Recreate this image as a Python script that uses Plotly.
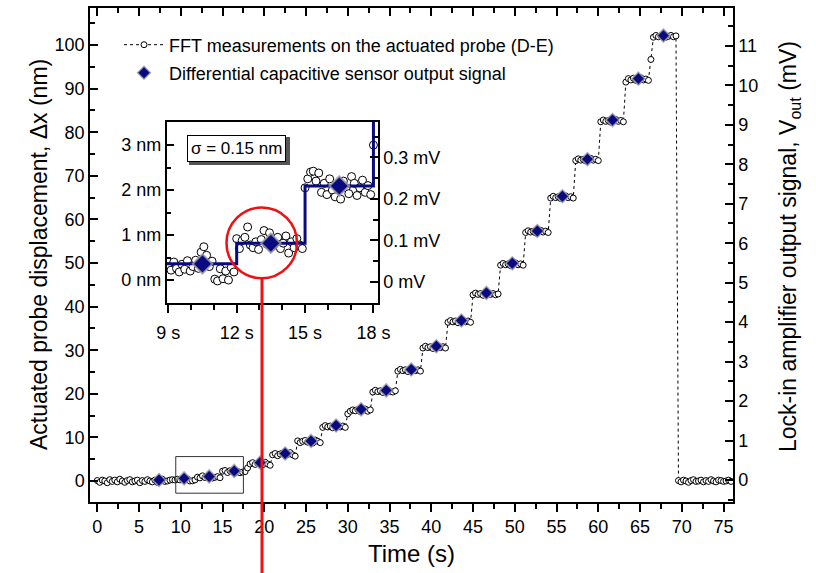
import numpy as np
import plotly.graph_objects as go

# ---------------- data ----------------
# FFT measurements (nm), sampled every 0.3 s from t = 0 s
fft_nm = [
    # 0 - 8.7 s (flat)
    0.1, -0.3, 0.2, 0.0, -0.4, 0.3, -0.1, 0.2, -0.2, 0.4, 0.0, -0.3, 0.1, 0.3, -0.2,
    0.0, 0.2, -0.4, 0.1, -0.1, 0.3, 0.0, -0.2, 0.2, -0.3, 0.1, 0.4, -0.1, 0.0, 0.2,
    # 9.0 - 11.7
    0.30, 0.22, 0.41, 0.25, 0.35, 0.62, 0.45, 0.00, 0.05, 0.25,
    # 12.0 - 14.7
    0.88, 0.72, 1.18, 0.80, 0.95, 1.10, 0.70, 0.85, 1.00, 0.75,
    # 15.0 - 17.7
    2.25, 2.40, 1.95, 2.35, 2.10, 1.85, 2.20, 1.90, 2.05, 2.15,
    # 18.0 - 20.7
    3.0, 3.9, 4.2, 3.8, 4.1, 4.0, 3.7, 4.3, 3.9, 3.6,
    # 21.0 - 23.7
    6.0, 6.3, 5.8, 6.2, 6.4, 5.9, 6.1, 6.5, 6.0, 5.7,
    # 24.0 - 26.7
    9.2, 8.8, 9.1, 9.3, 8.9, 9.0, 8.7, 9.4, 9.1, 8.8,
    # 27.0 - 29.7
    12.3, 12.7, 12.4, 12.6, 12.2, 12.5, 12.8, 12.4, 12.6, 12.3,
    # 30.0 - 32.7
    15.4, 16.0, 16.3, 16.1, 16.4, 15.9, 16.2, 16.5, 16.0, 16.3,
    # 33.0 - 35.7
    20.4, 20.8, 20.5, 20.7, 20.3, 20.6, 20.9, 20.5, 20.4, 20.7,
    # 36.0 - 38.7
    25.2, 25.6, 25.3, 25.5, 25.1, 25.4, 25.7, 25.3, 25.5, 25.2,
    # 39.0 - 41.7
    30.5, 30.9, 30.6, 30.8, 30.4, 30.7, 31.0, 30.6, 30.8, 30.5,
    # 42.0 - 44.7
    36.4, 36.8, 36.5, 36.7, 36.3, 36.6, 36.9, 36.5, 36.7, 36.4,
    # 45.0 - 48.0
    42.7, 43.1, 42.8, 43.0, 42.6, 42.9, 43.2, 42.8, 43.0, 42.7, 42.9,
    # 48.3 - 51.0
    49.5, 49.9, 49.6, 49.8, 49.4, 49.7, 50.0, 49.6, 49.8, 49.5,
    # 51.3 - 54.0
    57.0, 57.4, 57.1, 57.3, 56.9, 57.2, 57.5, 57.1, 57.3, 57.0,
    # 54.3 - 57.0
    64.9, 65.3, 65.0, 65.2, 64.8, 65.1, 65.4, 65.0, 65.2, 64.9,
    # 57.3 - 60.0
    73.5, 73.9, 73.6, 73.8, 73.4, 73.7, 74.0, 73.6, 73.8, 73.5,
    # 60.3 - 63.0
    82.4, 82.8, 82.5, 82.7, 82.3, 82.6, 82.9, 82.5, 82.7, 82.4,
    # 63.3 - 66.0
    91.5, 92.3, 92.0, 92.4, 91.9, 92.1, 92.5, 92.0, 92.2, 91.9,
    # 66.3 - 69.3
    96.7, 101.8, 102.2, 101.9, 102.1, 102.3, 101.8, 102.0, 102.2, 101.9, 102.1,
    # 69.6 - 75.9
    0.1, -0.2, 0.2, 0.0, -0.3, 0.1, 0.3, -0.1, 0.0, 0.2, -0.2,
    0.1, -0.1, 0.3, 0.0, -0.2, 0.2, 0.1, -0.1, 0.0, 0.2, -0.1,
]
fft_t = np.round(np.arange(len(fft_nm)) * 0.3, 2)

# Differential capacitive sensor output (mV)
cap_t = [7.4, 10.4, 13.4, 16.4, 19.5, 22.5, 25.6, 28.6, 31.6, 34.6, 37.6,
         40.6, 43.6, 46.6, 49.7, 52.7, 55.7, 58.7, 61.7, 64.8, 67.8]
cap_mv = [0.00, 0.04, 0.09, 0.23, 0.44, 0.67, 0.99, 1.38, 1.79, 2.27, 2.80,
          3.39, 4.04, 4.74, 5.49, 6.31, 7.19, 8.13, 9.12, 10.17, 11.26]

# Inset (zoom 9 - 18 s), FFT points every 0.12 s
inset_nm = [
    0.30, 0.22, 0.40, 0.26, 0.18, 0.35, 0.24, 0.43, 0.20, 0.30, 0.44, 0.26, 0.62,
    0.74, 0.55, 0.30, 0.42, 0.02, -0.02, 0.25, 0.03, 0.20, 0.00, 0.28, 0.18,
    0.92, 0.70, 0.88, 0.95, 1.18, 0.78, 0.72, 0.85, 0.68, 0.90, 1.10, 0.80, 1.05,
    0.75, 0.88, 0.95, 0.70, 0.82, 0.98, 0.60, 0.85, 0.72, 0.92, 0.78, 0.70,
    2.05, 2.25, 2.40, 2.42, 2.20, 2.38, 1.95, 2.15, 1.90, 2.25, 2.00, 1.85, 2.10,
    1.80, 2.20, 2.05, 1.92, 2.30, 2.15, 1.88, 2.05, 2.22, 1.95, 2.10, 1.90,
    3.00,
]
inset_t = np.round(9.0 + np.arange(len(inset_nm)) * 0.12, 2)
inset_cap_t = [10.5, 13.5, 16.5]
inset_cap_nm = [0.36, 0.82, 2.09]
step_t = [8.9, 12.0, 15.0, 18.0]
step_nm = [0.36, 0.82, 2.09, 4.5]

# ---------------- figure ----------------
FONT = "Arial, Liberation Sans, sans-serif"
NAVY = "#0a0a80"
W, H = 816, 573
L, R, T, B = 90, 83, 8, 71
PW, PH = W - L - R, H - T - B


def px(x):
    return (x - L) / PW


def py(y):
    return (H - B - y) / PH


fig = go.Figure()

fig.add_trace(go.Scatter(
    x=fft_t, y=fft_nm, mode="lines+markers",
    name="FFT measurements on the actuated probe (D-E)",
    line=dict(color="black", width=1, dash="dot"),
    marker=dict(symbol="circle", size=6, color="white",
                line=dict(color="black", width=1)),
    xaxis="x", yaxis="y", legend="legend"))

fig.add_trace(go.Scatter(
    x=cap_t, y=cap_mv, mode="markers",
    name="Differential capacitive sensor output signal",
    marker=dict(symbol="diamond", size=10, color=NAVY,
                line=dict(color="rgba(160,160,170,0.8)", width=1.5)),
    xaxis="x", yaxis="y2", legend="legend2"))

# invisible trace for top axis
fig.add_trace(go.Scatter(x=[0], y=[0], mode="markers", showlegend=False,
                         marker=dict(opacity=0), xaxis="x2", yaxis="y",
                         hoverinfo="skip"))

# inset traces
fig.add_trace(go.Scatter(
    x=inset_t, y=inset_nm, mode="markers", showlegend=False,
    marker=dict(symbol="circle", size=8, color="white",
                line=dict(color="black", width=1)),
    xaxis="x3", yaxis="y3"))
fig.add_trace(go.Scatter(
    x=step_t, y=step_nm, mode="lines", line_shape="hv", showlegend=False,
    line=dict(color=NAVY, width=3), xaxis="x3", yaxis="y3"))
fig.add_trace(go.Scatter(
    x=inset_cap_t, y=inset_cap_nm, mode="markers", showlegend=False,
    marker=dict(symbol="diamond", size=15, color=NAVY,
                line=dict(color="rgba(160,160,170,0.8)", width=2)),
    xaxis="x3", yaxis="y3"))
# invisible dummy so the inset right axis is drawn
fig.add_trace(go.Scatter(x=[9], y=[0], mode="markers", showlegend=False,
                         marker=dict(opacity=0), xaxis="x3", yaxis="y4",
                         hoverinfo="skip"))

tickfont = dict(family=FONT, size=18, color="black")
itickfont = dict(family=FONT, size=18, color="black")
axcommon = dict(showgrid=False, zeroline=False, showline=True, linecolor="black",
                linewidth=1.5, tickcolor="black", tickwidth=1.5)
minor_common = dict(tickcolor="black", tickwidth=1.5)

fig.update_layout(
    width=W, height=H, margin=dict(l=L, r=R, t=T, b=B, autoexpand=False),
    paper_bgcolor="white", plot_bgcolor="rgba(0,0,0,0)",
    hovermode=False,
    xaxis=dict(domain=[0, 1], range=[-0.87, 76.13], anchor="y",
               ticks="outside", ticklen=8, tick0=0, dtick=5, tickfont=tickfont,
               minor=dict(ticks="outside", ticklen=5, dtick=2.5, tick0=0, **minor_common),
               **axcommon),
    xaxis2=dict(overlaying="x", side="top", anchor="y", range=[-0.87, 76.13],
                ticks="inside", ticklen=8, tick0=0, dtick=5, showticklabels=False,
                minor=dict(ticks="inside", ticklen=5, dtick=2.5, tick0=0, **minor_common),
                **axcommon),
    yaxis=dict(domain=[0, 1], range=[-4.82, 108.5], anchor="x",
               ticks="inside", ticklen=8, tick0=0, dtick=10, tickfont=tickfont,
               minor=dict(ticks="inside", ticklen=5, dtick=5, tick0=0, **minor_common),
               **axcommon),
    yaxis2=dict(overlaying="y", side="right", anchor="x", range=[-0.558, 11.96],
                ticks="inside", ticklen=8, tick0=0, dtick=1, tickfont=tickfont,
                minor=dict(ticks="inside", ticklen=5, dtick=0.5, tick0=0, **minor_common),
                **axcommon),
    xaxis3=dict(domain=[px(166.7), px(378)], anchor="y3", range=[8.93, 18.2],
                ticks="outside", ticklen=8, tickmode="array",
                tickvals=[9, 12, 15, 18], ticktext=["9 s", "12 s", "15 s", "18 s"],
                tickfont=itickfont, mirror=True, ticklabelstandoff=5,
                minor=dict(ticks="outside", ticklen=5, dtick=1, tick0=9, **minor_common),
                **axcommon),
    yaxis3=dict(domain=[py(303), py(121.7)], anchor="x3", range=[-0.51, 3.52],
                ticks="inside", ticklen=8, tickmode="array",
                tickvals=[0, 1, 2, 3], ticktext=["0 nm", "1 nm", "2 nm", "3 nm"],
                tickfont=itickfont,
                minor=dict(ticks="inside", ticklen=5, dtick=0.5, tick0=0, **minor_common),
                **axcommon),
    yaxis4=dict(overlaying="y3", side="right", anchor="x3", range=[-0.051, 0.386],
                ticks="inside", ticklen=8, tickmode="array",
                tickvals=[0, 0.1, 0.2, 0.3],
                ticktext=["0 mV", "0.1 mV", "0.2 mV", "0.3 mV"],
                tickfont=itickfont,
                minor=dict(ticks="inside", ticklen=5, dtick=0.05, tick0=0, **minor_common),
                **axcommon),
    legend=dict(x=px(119), y=py(45), xanchor="left", yanchor="middle", itemwidth=40,
                bgcolor="rgba(0,0,0,0)", font=dict(family=FONT, size=18, color="black")),
    legend2=dict(x=px(119), y=py(73), xanchor="left", yanchor="middle", itemwidth=40,
                 bgcolor="rgba(0,0,0,0)", font=dict(family=FONT, size=18, color="black")),
)

shapes = [
    # zoom rectangle in main plot
    dict(type="rect", xref="x", yref="y", x0=9.4, x1=17.5, y0=-2.8, y1=5.6,
         line=dict(color="#333333", width=1)),
    # shadow of sigma box
    dict(type="rect", xref="paper", yref="paper", x0=px(189), x1=px(290),
         y0=py(165), y1=py(137), fillcolor="#555555",
         line=dict(width=0), layer="above"),
    # red circle
    dict(type="circle", xref="paper", yref="paper", x0=px(226.5), x1=px(297),
         y0=py(278.3), y1=py(207.5), line=dict(color="#ee1111", width=2.5),
         layer="above"),
    # red line
    dict(type="line", xref="paper", yref="paper", x0=px(262), x1=px(262),
         y0=py(278.3), y1=py(575), line=dict(color="#ee1111", width=3),
         layer="above"),
]
fig.update_layout(shapes=shapes)

annos = [
    dict(text="σ = 0.15 nm", xref="paper", yref="paper", x=px(236), y=py(148),
         xanchor="center", yanchor="middle",
         showarrow=False, font=dict(family=FONT, size=17, color="black"),
         bgcolor="white", bordercolor="black", borderwidth=1, borderpad=3),
    dict(text="Time (s)", xref="paper", yref="paper", x=px(411), y=py(553),
         xanchor="center", yanchor="middle",
         showarrow=False, font=dict(family=FONT, size=24, color="black")),
    dict(text="Actuated probe displacement, Δx (nm)", xref="paper", yref="paper",
         x=px(39), y=py(255), textangle=-90, showarrow=False,
         xanchor="center", yanchor="middle",
         font=dict(family=FONT, size=23, color="black")),
    dict(text="Lock-in amplifier output signal, V<sub>out</sub> (mV)",
         xref="paper", yref="paper", x=px(789), y=py(246), textangle=-90,
         xanchor="center", yanchor="middle",
         showarrow=False, font=dict(family=FONT, size=23, color="black")),
]
fig.update_layout(annotations=annos)

fig.write_html("out.html")
